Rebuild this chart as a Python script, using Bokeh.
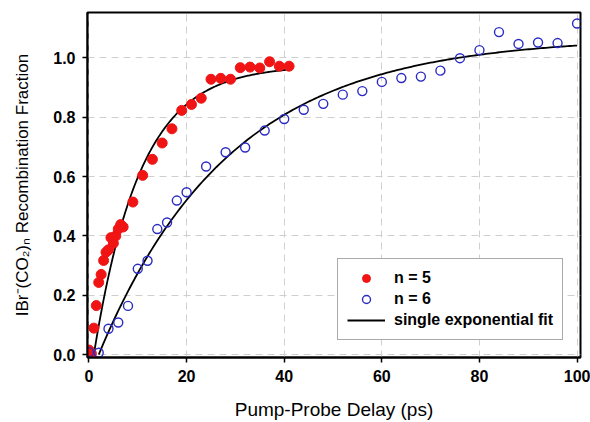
import numpy as np
from bokeh.plotting import figure
from bokeh.models import (Range1d, FixedTicker, NumeralTickFormatter, Legend, LegendItem)
from bokeh.embed import file_html
from bokeh.resources import INLINE

# ---- data ----
n5_delay = [0, 0.5, 1, 1.5, 2, 2.5, 3, 3.5, 4, 4.5, 5, 5.5, 6, 6.5, 7, 9, 11, 13, 15, 17,
            19, 21, 23, 25, 27, 29, 31, 33, 35, 37, 39, 41]
n5_frac = [0.015, 0.003, 0.089, 0.165, 0.243, 0.27, 0.317, 0.345, 0.353, 0.394, 0.375, 0.40,
           0.423, 0.438, 0.43, 0.514, 0.604, 0.658, 0.713, 0.761, 0.823, 0.843, 0.864,
           0.928, 0.931, 0.928, 0.967, 0.969, 0.966, 0.987, 0.972, 0.972]

n6_delay = [0, 2, 4, 6, 8, 10, 12, 14, 16, 18, 20, 24, 28, 32, 36, 40, 44, 48, 52, 56, 60,
            64, 68, 72, 76, 80, 84, 88, 92, 96, 100]
n6_frac = [0.008, 0.006, 0.087, 0.108, 0.164, 0.289, 0.316, 0.423, 0.445, 0.519, 0.547,
           0.634, 0.682, 0.698, 0.755, 0.794, 0.825, 0.845, 0.876, 0.888, 0.919, 0.932,
           0.937, 0.957, 0.999, 1.026, 1.087, 1.047, 1.052, 1.050, 1.116]

# single exponential fit parameters (amplitude, time constant, onset, end of fit range)
fit5 = dict(A=0.975, tau=9.5, t0=1.0, t1=41.0)
fit6 = dict(A=1.07, tau=27.0, t0=2.0, t1=100.0)

x_ticks = [0, 20, 40, 60, 80, 100]
y_ticks = [0.0, 0.2, 0.4, 0.6, 0.8, 1.0]

x_title = "Pump-Probe Delay (ps)"
y_title = "IBr\u207b(CO\u2082)\u2099 Recombination Fraction"
legend_labels = ["n = 5", "n = 6", "single exponential fit"]


def fit_curve(A, tau, t0, t1):
    t = np.linspace(t0, t1, 200)
    return t, A * (1.0 - np.exp(-(t - t0) / tau))


FONT = "Liberation Sans"

p = figure(width=590, height=422, output_backend="svg", toolbar_location=None,
           x_range=Range1d(-0.3, 100.7), y_range=Range1d(-0.01, 1.153),
           min_border_left=87, min_border_right=10, min_border_top=12, min_border_bottom=65)
p.background_fill_color = "white"
p.border_fill_color = "white"
p.outline_line_color = "black"
p.outline_line_width = 2

for g in (p.xgrid[0], p.ygrid[0]):
    g.grid_line_color = "#cfcfcf"
    g.grid_line_dash = "7 5"
    g.grid_line_width = 1
p.xgrid[0].ticker = FixedTicker(ticks=x_ticks)
p.ygrid[0].ticker = FixedTicker(ticks=y_ticks)

xa = p.xaxis[0]
ya = p.yaxis[0]
xa.ticker = FixedTicker(ticks=x_ticks)
ya.ticker = FixedTicker(ticks=y_ticks)
xa.formatter = NumeralTickFormatter(format="0")
ya.formatter = NumeralTickFormatter(format="0.0")
for ax in (xa, ya):
    ax.axis_line_color = "black"
    ax.axis_line_width = 2
    ax.major_tick_line_color = "black"
    ax.major_tick_line_width = 1.5
    ax.major_tick_out = 5
    ax.major_tick_in = 0
    ax.minor_tick_line_color = None
    ax.major_label_text_font = FONT
    ax.major_label_text_font_style = "bold"
    ax.major_label_text_font_size = "16px"
    ax.major_label_text_color = "black"
    ax.axis_label_text_font = FONT
    ax.axis_label_text_font_style = "normal"
    ax.axis_label_text_color = "black"

xa.axis_label = x_title
xa.axis_label_text_font_size = "19px"
xa.major_label_standoff = 7
xa.axis_label_standoff = 14

ya.axis_label = y_title
ya.axis_label_text_font_size = "17px"
ya.major_label_standoff = 7
ya.axis_label_standoff = 18

t5, f5 = fit_curve(**fit5)
t6, f6 = fit_curve(**fit6)
l5 = p.line(t5, f5, line_color="black", line_width=1.8)
l6 = p.line(t6, f6, line_color="black", line_width=1.8)

s5 = p.scatter(n5_delay, n5_frac, marker="circle", size=10, fill_color="#f01414",
               line_color="#f01414", line_width=1)
s6 = p.scatter(n6_delay, n6_frac, marker="circle", size=9, fill_color=None,
               line_color="#2b2bc4", line_width=1.4)

legend = Legend(items=[LegendItem(label=legend_labels[0], renderers=[s5]),
                       LegendItem(label=legend_labels[1], renderers=[s6]),
                       LegendItem(label=legend_labels[2], renderers=[l5])],
                location=(250, 17), margin=0, padding=9, spacing=1,
                glyph_width=38, glyph_height=20, label_height=20, label_standoff=9,
                label_text_font=FONT, label_text_font_style="bold",
                label_text_font_size="16px", label_text_color="black",
                border_line_color="#555555", border_line_width=1,
                background_fill_color="white", background_fill_alpha=1.0)
p.add_layout(legend, "center")

open("out.html", "w").write(file_html(p, INLINE))
